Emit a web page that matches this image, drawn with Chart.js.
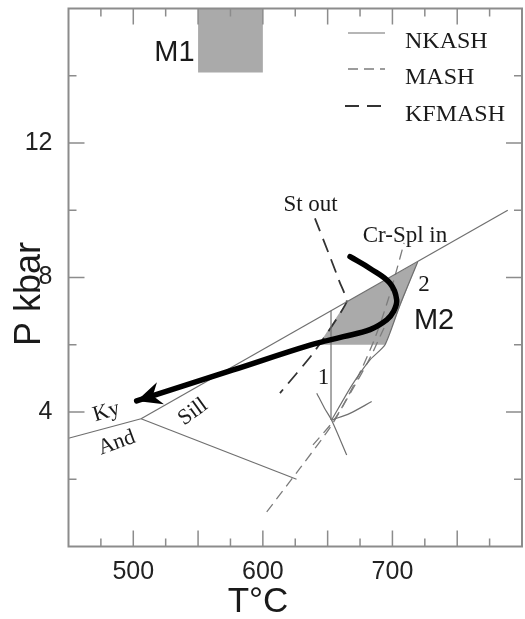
<!DOCTYPE html>
<html>
<head>
<meta charset="utf-8">
<script src="https://cdn.jsdelivr.net/npm/chart.js@4.4.1/dist/chart.umd.min.js"></script>
<style>
  html, body { margin: 0; padding: 0; background: #fff; }
  #wrap { width: 525px; height: 619px; }
</style>
</head>
<body>
<div id="wrap"><canvas id="ptChart" width="525" height="619"></canvas></div>
<script>
// Оси
const tempMin = 450, tempMax = 800;
const presMin = 0, presMax = 16;
const tempLabels = [500, 600, 700];
const presLabels = [4, 8, 12];
const tempTicks = [475, 500, 525, 550, 575, 600, 625, 650, 675, 700, 725, 750, 775];
const presTicks = [2, 4, 6, 8, 10, 12, 14];

// Линии реакций, точки [T °C, P kbar]
const andKy = [[450, 3.22], [506, 3.8]];
const kySill = [[506, 3.8], [789, 10.0]];
const sillAnd = [[506, 3.8], [626, 2.0]];
const reaction1 = [[652.6, 7.01], [652.6, 3.76]];
const nkashA = [[641.6, 4.56], [647.5, 4.12], [653, 3.76], [664.7, 2.72]];
const nkashB = [[653, 3.76], [667.2, 3.96], [684, 4.31]];
const reaction2 = [[653, 3.76], [668.8, 4.8], [682.7, 5.55], [694.3, 6.0], [705.8, 7.18], [719.5, 8.46]];
const mashA = [[603, 1.03], [628.7, 2.33], [652.6, 3.58], [665.7, 4.47], [676.5, 5.3], [687.3, 6.28], [696.6, 7.33], [702.8, 8.16], [709, 9.03]];
const mashB = [[638.7, 3.02], [654.9, 3.76], [668.8, 4.65], [682.7, 5.61], [693.5, 6.5]];
const stOut = [[640.2, 9.76], [651.8, 8.62], [659.5, 7.84], [664.7, 7.28], [638.9, 5.75], [613.2, 4.56]];

// P-T путь и области
const ptPath = [[667.3, 8.62], [682.7, 8.27], [698.1, 7.83], [703.3, 7.33], [700.7, 6.98], [695.6, 6.74], [682.7, 6.45], [662.1, 6.24], [636.4, 5.99], [577, 5.25], [502.6, 4.33]];
const m1Box = [[550, 16], [600, 16], [600, 14.1], [550, 14.1]];
const m2Box = [[643, 6.0], [664.7, 7.28], [719.5, 8.46], [694.3, 6.0]];

// Подписи
const notes = [
    { text: 'M1', t: 531.8, p: 14.68, font: '29px "Liberation Sans", Arial', rot: 0 },
    { text: 'M2', t: 732.1, p: 6.71, font: '29px "Liberation Sans", Arial', rot: 0 },
    { text: 'St out', t: 636.8, p: 10.16, font: '23px "Liberation Serif", "Times New Roman"', rot: 0 },
    { text: 'Cr-Spl in', t: 709.7, p: 9.23, font: '23px "Liberation Serif", "Times New Roman"', rot: 0 },
    { text: '2', t: 724.4, p: 7.78, font: '23px "Liberation Serif", "Times New Roman"', rot: 0 },
    { text: '1', t: 646.8, p: 5.0, font: '23px "Liberation Serif", "Times New Roman"', rot: 0 },
    { text: 'Ky', t: 479.3, p: 4.0, font: '22px "Liberation Serif", "Times New Roman"', rot: -17 },
    { text: 'And', t: 487.2, p: 3.08, font: '22px "Liberation Serif", "Times New Roman"', rot: -20 },
    { text: 'Sill', t: 546.1, p: 4.0, font: '22px "Liberation Serif", "Times New Roman"', rot: -36 }
];

const styles = {
    NKASH: { borderColor: '#6f6f6f', borderWidth: 1.2, borderDash: [] },
    MASH: { borderColor: '#7c7c7c', borderWidth: 1.3, borderDash: [10, 6] },
    KFMASH: { borderColor: '#333333', borderWidth: 1.8, borderDash: [14, 8] }
};

const toXY = pts => pts.map(([x, y]) => ({ x, y }));

function lineSet(label, pts, style, tension) {
    return Object.assign({
        label: label,
        data: toXY(pts),
        tension: tension || 0,
        pointRadius: 0,
        fill: false,
        order: 5
    }, style);
}

function areaSet(label, pts) {
    return {
        label: label,
        data: toXY(pts),
        fill: 'shape',
        backgroundColor: '#aaaaaa',
        borderWidth: 0,
        pointRadius: 0,
        order: 10
    };
}

// Стрелка, рамка, засечки, подписи и легенда
const decorPlugin = {
    id: 'decor',
    afterDatasetsDraw(chart) {
        const { ctx, chartArea: a, scales: { x, y } } = chart;
        ctx.save();

        // наконечник стрелки по двум последним точкам пути
        const n = ptPath.length;
        const tipX = x.getPixelForValue(ptPath[n - 1][0]), tipY = y.getPixelForValue(ptPath[n - 1][1]);
        const prX = x.getPixelForValue(ptPath[n - 2][0]), prY = y.getPixelForValue(ptPath[n - 2][1]);
        let dx = prX - tipX, dy = prY - tipY;
        const len = Math.hypot(dx, dy); dx /= len; dy /= len;
        const px = -dy, py = dx;
        ctx.fillStyle = '#000';
        ctx.beginPath();
        ctx.moveTo(tipX, tipY);
        ctx.lineTo(tipX + dx * 25 + px * 11.5, tipY + dy * 25 + py * 11.5);
        ctx.lineTo(tipX + dx * 17, tipY + dy * 17);
        ctx.lineTo(tipX + dx * 25 - px * 11.5, tipY + dy * 25 - py * 11.5);
        ctx.closePath();
        ctx.fill();

        // рамка и засечки внутрь
        ctx.strokeStyle = '#8c8c8c';
        ctx.lineWidth = 2;
        ctx.strokeRect(a.left, a.top, a.right - a.left, a.bottom - a.top);
        ctx.lineWidth = 1.5;
        ctx.beginPath();
        tempTicks.forEach(v => {
            const p = x.getPixelForValue(v);
            const l = v % 50 === 0 ? 16 : 8;
            ctx.moveTo(p, a.bottom); ctx.lineTo(p, a.bottom - l);
            ctx.moveTo(p, a.top); ctx.lineTo(p, a.top + l);
        });
        presTicks.forEach(v => {
            const p = y.getPixelForValue(v);
            const l = v % 4 === 0 ? 16 : 8;
            ctx.moveTo(a.left, p); ctx.lineTo(a.left + l, p);
            ctx.moveTo(a.right, p); ctx.lineTo(a.right - l, p);
        });
        ctx.stroke();

        // подписи на поле
        ctx.fillStyle = '#1a1a1a';
        ctx.textAlign = 'center';
        ctx.textBaseline = 'middle';
        notes.forEach(nt => {
            ctx.save();
            ctx.translate(x.getPixelForValue(nt.t), y.getPixelForValue(nt.p));
            ctx.rotate(nt.rot * Math.PI / 180);
            ctx.font = nt.font;
            ctx.fillText(nt.text, 0, 0);
            ctx.restore();
        });

        // названия осей
        ctx.font = '35px "Liberation Sans", Arial';
        ctx.fillText('T°C', 258, 602);
        ctx.save();
        ctx.translate(30, 294);
        ctx.rotate(-Math.PI / 2);
        ctx.font = '36px "Liberation Sans", Arial';
        ctx.fillText('P kbar', 0, 0);
        ctx.restore();

        // легенда
        ctx.textAlign = 'left';
        ctx.textBaseline = 'alphabetic';
        ctx.font = '24px "Liberation Serif", "Times New Roman"';
        const rows = [['NKASH', 33, 348], ['MASH', 69, 348], ['KFMASH', 106, 345]];
        rows.forEach(([name, ly, lx]) => {
            const s = styles[name];
            ctx.strokeStyle = s.borderColor;
            ctx.lineWidth = s.borderWidth;
            ctx.setLineDash(s.borderDash);
            ctx.beginPath();
            ctx.moveTo(lx, ly); ctx.lineTo(385, ly);
            ctx.stroke();
            ctx.setLineDash([]);
            ctx.fillText(name, 405, ly + 15);
        });

        ctx.restore();
    }
};

document.addEventListener('DOMContentLoaded', function() {
    new Chart(document.getElementById('ptChart'), {
        type: 'line',
        data: {
            datasets: [
                lineSet('P-T path', ptPath, { borderColor: '#000', borderWidth: 5.5, borderCapStyle: 'round' }, 0.4),
                lineSet('And-Ky', andKy, styles.NKASH),
                lineSet('Ky-Sill', kySill, styles.NKASH),
                lineSet('Sill-And', sillAnd, styles.NKASH),
                lineSet('1', reaction1, styles.NKASH),
                lineSet('NKASH a', nkashA, styles.NKASH, 0.3),
                lineSet('NKASH b', nkashB, styles.NKASH, 0.3),
                lineSet('2', reaction2, styles.NKASH, 0.2),
                lineSet('Cr-Spl in', mashA, styles.MASH, 0.3),
                lineSet('MASH b', mashB, styles.MASH, 0.3),
                lineSet('St out', stOut, styles.KFMASH, 0.15),
                areaSet('M1', m1Box),
                areaSet('M2', m2Box)
            ]
        },
        options: {
            responsive: false,
            animation: false,
            devicePixelRatio: 1,
            layout: { padding: { top: 8.5, right: 3, left: 0, bottom: 0 } },
            plugins: {
                legend: { display: false },
                tooltip: { enabled: false }
            },
            scales: {
                x: {
                    type: 'linear',
                    min: tempMin,
                    max: tempMax,
                    grid: { display: false },
                    border: { display: false },
                    afterBuildTicks: s => { s.ticks = tempLabels.map(v => ({ value: v })); },
                    afterFit: s => { s.height = 72.5; s.paddingLeft = 0; s.paddingRight = 0; },
                    ticks: {
                        autoSkip: false,
                        maxRotation: 0,
                        padding: 3,
                        color: '#222',
                        font: { family: '"Liberation Sans", Arial', size: 25 }
                    }
                },
                y: {
                    type: 'linear',
                    min: presMin,
                    max: presMax,
                    grid: { display: false },
                    border: { display: false },
                    afterBuildTicks: s => { s.ticks = presLabels.map(v => ({ value: v })); },
                    afterFit: s => { s.width = 68.5; s.paddingTop = 0; s.paddingBottom = 0; },
                    ticks: {
                        autoSkip: false,
                        padding: 8,
                        color: '#222',
                        font: { family: '"Liberation Sans", Arial', size: 25 }
                    }
                }
            }
        },
        plugins: [decorPlugin]
    });
});
</script>
</body>
</html>
